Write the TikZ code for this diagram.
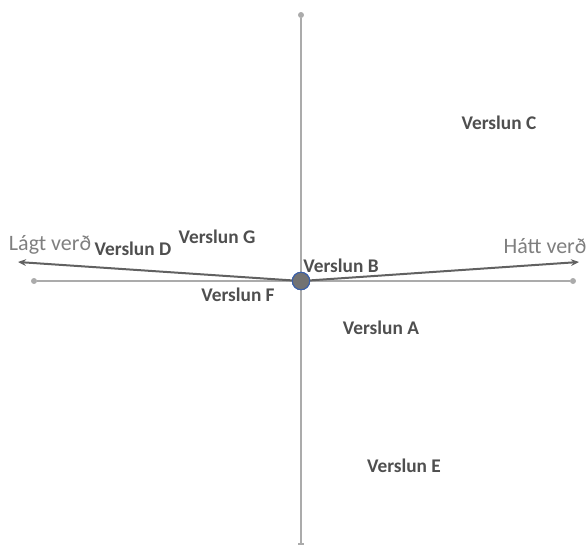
\documentclass[tikz,border=0pt]{standalone}
\usepackage{fontspec}
\setmainfont{Carlito}
\usetikzlibrary{arrows.meta}
\definecolor{axisgrey}{HTML}{ABABAB}
\definecolor{labelgrey}{HTML}{4F4F4F}
\definecolor{endgrey}{HTML}{7F7F7F}
\definecolor{arrowgrey}{HTML}{616161}
\definecolor{rimblue}{HTML}{3A5FA8}
\tikzset{
  axisline/.style={draw=axisgrey, line width=1.4pt},
  axisdot/.style={circle, fill=axisgrey, inner sep=0pt, minimum size=4.5pt},
  priceaxis/.style={draw=arrowgrey, line width=1.5pt, -{Stealth[length=6pt,width=5pt]}},
  store/.style={font=\fontsize{14.5}{16}\selectfont\bfseries, text=labelgrey, anchor=base, inner sep=0pt},
  endlabel/.style={font=\fontsize{16.5}{18}\selectfont, text=endgrey, anchor=base, inner sep=0pt},
  origin/.style={circle, fill=endgrey!90!black, draw=rimblue, line width=0.8pt, minimum size=13pt, inner sep=0pt}
}
\begin{document}
\begin{tikzpicture}[x=0.75pt, y=-0.75pt]
\useasboundingbox (0,0) rectangle (587,547);

% axes
\node[axisdot] (top) at (301,15) {};
\coordinate (bottom) at (301,544);
\node[axisdot] (left) at (34,281) {};
\node[axisdot] (right) at (573,281) {};
\draw[axisline] (top) -- (bottom);
\draw[axisline] (left) -- (right);
\fill[axisgrey] (298,542.5) rectangle (304,545);

% price direction arrows from the origin
\node[origin] (o) at (301,281) {};
\coordinate (lowend) at (18,262);
\coordinate (highend) at (579,262);
\draw[priceaxis] (o.center) -- (lowend);
\draw[priceaxis] (o.center) -- (highend);
\node[origin] (o2) at (301,281) {};

% end labels
\node[endlabel] (low) at (50,250) {Lágt verð};
\node[endlabel] (high) at (545,253) {Hátt verð};

% stores
\node[store] (sA) at (381,334) {Verslun A};
\node[store] (sB) at (341,272) {Verslun B};
\node[store] (sC) at (499,129) {Verslun C};
\node[store] (sD) at (133,255) {Verslun D};
\node[store] (sE) at (404,472) {Verslun E};
\node[store] (sF) at (238,301) {Verslun F};
\node[store] (sG) at (217,243) {Verslun G};
\end{tikzpicture}
\end{document}
